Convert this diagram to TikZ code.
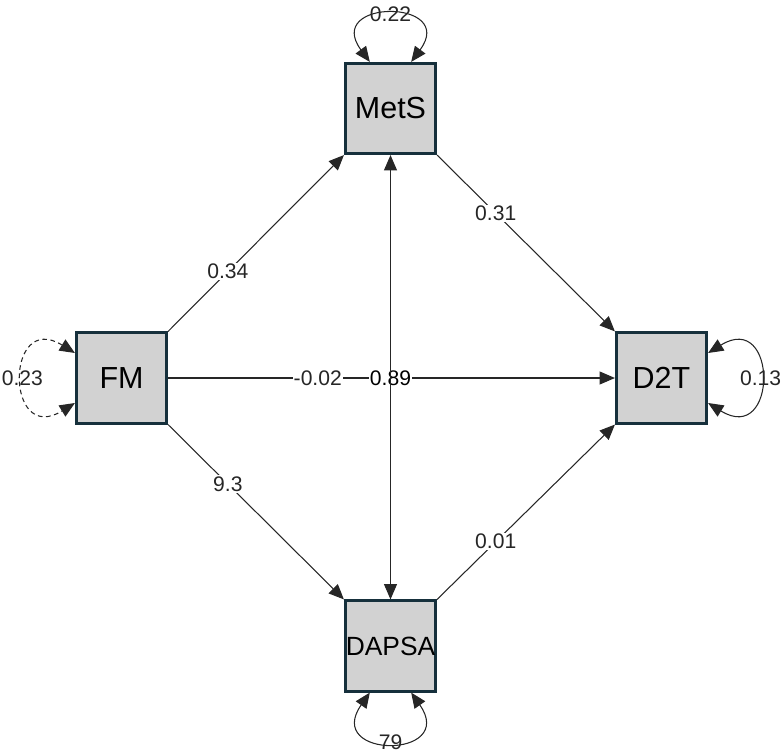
\documentclass[tikz,border=0pt]{standalone}
\usepackage{fontspec}
\setmainfont{Liberation Sans}
\usetikzlibrary{arrows.meta}
\definecolor{boxedge}{RGB}{22,48,60}

\begin{document}
\begin{tikzpicture}[x=0.03cm,y=-0.03cm,>={Triangle[length=13pt,width=11pt]},
  var/.style={draw=boxedge,line width=2.4pt,fill=gray!35,minimum size=2.71cm,inner sep=0pt,font=\fontsize{26}{30}\selectfont},
  lbl/.style={fill=white,inner sep=1pt,font=\fontsize{18}{21}\selectfont},
  looplbl/.style={inner sep=1pt,font=\fontsize{18}{21}\selectfont},
  reg/.style={black!85,line width=0.9pt}]
 \useasboundingbox (0,0) rectangle (782,756);
 \node[var] (MetS) at (390.5,108.5) {MetS};
 \node[var] (FM) at (121.5,378) {FM};
 \node[var] (D2T) at (661.5,378) {D2T};
 \node[var,font=\fontsize{22.5}{26}\selectfont] (DAPSA) at (390.5,646) {DAPSA};
 % regressions
 \draw[reg,->] (FM.north east) -- node[lbl,pos=0.34] {0.34} (MetS.south west);
 \draw[reg,->] (FM.south east) -- node[lbl,pos=0.34] {9.3} (DAPSA.north west);
 \draw[reg,->] (MetS.south east) -- node[lbl,pos=0.33] {0.31} (D2T.north west);
 \draw[reg,->] (DAPSA.north east) -- node[lbl,pos=0.33] {0.01} (D2T.south west);
 \draw[reg,->] (FM) -- node[lbl,pos=0.335] {-0.02} (D2T);
 % covariance
 \node[lbl] (cov) at (MetS |- FM) {0.89};
 \draw[reg,<->] (MetS) -- (DAPSA);
 % variances
 \draw[reg,<->] ([xshift=-0.62cm]MetS.north) .. controls +(-1.4cm,1.9cm) and +(1.4cm,1.9cm) .. node[looplbl,pos=0.5] {0.22} ([xshift=0.62cm]MetS.north);
 \draw[reg,<->] ([xshift=-0.62cm]DAPSA.south) .. controls +(-1.4cm,-2cm) and +(1.4cm,-2cm) .. node[looplbl,pos=0.5] {79} ([xshift=0.62cm]DAPSA.south);
 \draw[reg,<->,dash pattern=on 4pt off 3pt] ([yshift=0.75cm]FM.west) .. controls +(-2.1cm,1.3cm) and +(-2.1cm,-1.3cm) .. node[looplbl,pos=0.5] {0.23} ([yshift=-0.75cm]FM.west);
 \draw[reg,<->] ([yshift=0.75cm]D2T.east) .. controls +(2.1cm,1.3cm) and +(2.1cm,-1.3cm) .. node[looplbl,pos=0.5] {0.13} ([yshift=-0.75cm]D2T.east);
\end{tikzpicture}
\end{document}
